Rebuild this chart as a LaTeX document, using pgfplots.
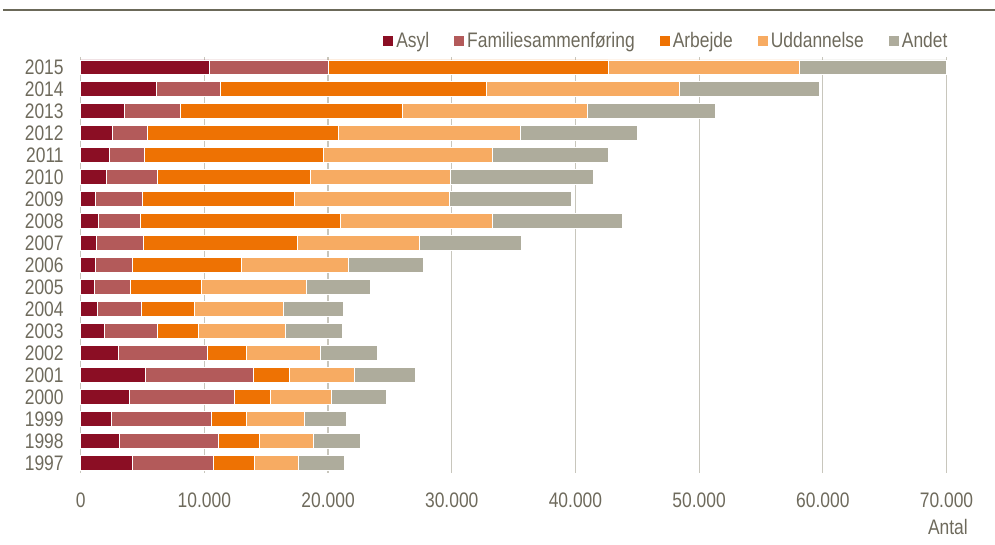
\documentclass[border=0pt]{standalone}
\usepackage{fontspec}
\setmainfont[FakeStretch=0.83]{Liberation Sans}
\usepackage{pgfplots}
\usepackage{pgfplotstable}
\pgfplotsset{compat=1.18}
\definecolor{asyl}{HTML}{8B0E24}
\definecolor{fam}{HTML}{B35A5A}
\definecolor{arb}{HTML}{EE7203}
\definecolor{udd}{HTML}{F7AB62}
\definecolor{andet}{HTML}{AEAC9C}
\definecolor{txt}{HTML}{6E6A5C}
\definecolor{gridc}{HTML}{C8C6BC}
\definecolor{rulec}{HTML}{6B6959}

\pgfplotstableread{
year asyl fam arb udd andet
1997 4150 6580 3310 3560 3690
1998 3100 8030 3290 4390 3770
1999 2450 8080 2830 4750 3390
2000 3930 8460 2910 4990 4420
2001 5230 8730 2880 5260 4990
2002 3040 7200 3130 6010 4640
2003 1910 4260 3310 7090 4610
2004 1320 3580 4260 7230 4840
2005 1130 2850 5740 8490 5230
2006 1180 2970 8810 8650 6060
2007 1240 3820 12430 9920 8190
2008 1400 3420 16140 12340 10510
2009 1180 3800 12290 12560 9800
2010 2050 4150 12340 11340 11560
2011 2310 2830 14450 13690 9400
2012 2560 2830 15470 14650 9490
2013 3530 4500 17950 14950 10340
2014 6110 5150 21530 15620 11270
2015 10370 9650 22600 15500 11900
}\data

\begin{document}
\begin{tikzpicture}[x=1pt,y=1pt]
\useasboundingbox (0,0) rectangle (497.5,272.5);
\draw[rulec, line width=1.2pt] (1.5,267.5) -- (497.5,267.5);
\begin{axis}[
 at={(40.35pt,36pt)}, anchor=south west,
 scale only axis, width=432.9pt, height=208pt,
 clip=false,
 xbar stacked, bar width=7.2pt,
 xmin=0, xmax=70000, ymin=1996.545, ymax=2015.455,
 ytick=data, xtick={0,10000,...,70000},
 scaled x ticks=false,
 xmajorgrids, grid style={gridc, line width=0.6pt},
 axis line style={draw=none}, major tick length=0pt,
 tick label style={font=\fontsize{10.5}{12}\selectfont, text=txt},
 /pgf/number format/assume math mode=true,
 xticklabel style={/pgf/number format/1000 sep={.}, yshift=-6.5pt},
 yticklabel style={/pgf/number format/1000 sep={}, xshift=-5pt},
 legend columns=-1,
 legend style={draw=none, fill=none, at={(1.005,1.038)}, anchor=east,
   font=\fontsize{10.5}{12}\selectfont, text=txt, inner sep=0pt,
   nodes={inner xsep=1.5pt},
   /tikz/every even column/.append style={column sep=11pt}},
 legend image code/.code={\fill[#1,draw=none] (0pt,-2.6pt) rectangle (5pt,2.4pt);},
 every axis plot/.append style={draw=white, line width=0.3pt}
]
\addplot[fill=asyl] table[x=asyl,y=year]{\data};
\addplot[fill=fam] table[x=fam,y=year]{\data};
\addplot[fill=arb] table[x=arb,y=year]{\data};
\addplot[fill=udd] table[x=udd,y=year]{\data};
\addplot[fill=andet] table[x=andet,y=year]{\data};
\legend{Asyl, Familiesammenføring, Arbejde, Uddannelse, Andet}
\node[anchor=east, text=txt, font=\fontsize{10.5}{12}\selectfont, inner sep=0pt] at (rel axis cs:1.025,-0.13) {Antal};
\end{axis}
\end{tikzpicture}
\end{document}
